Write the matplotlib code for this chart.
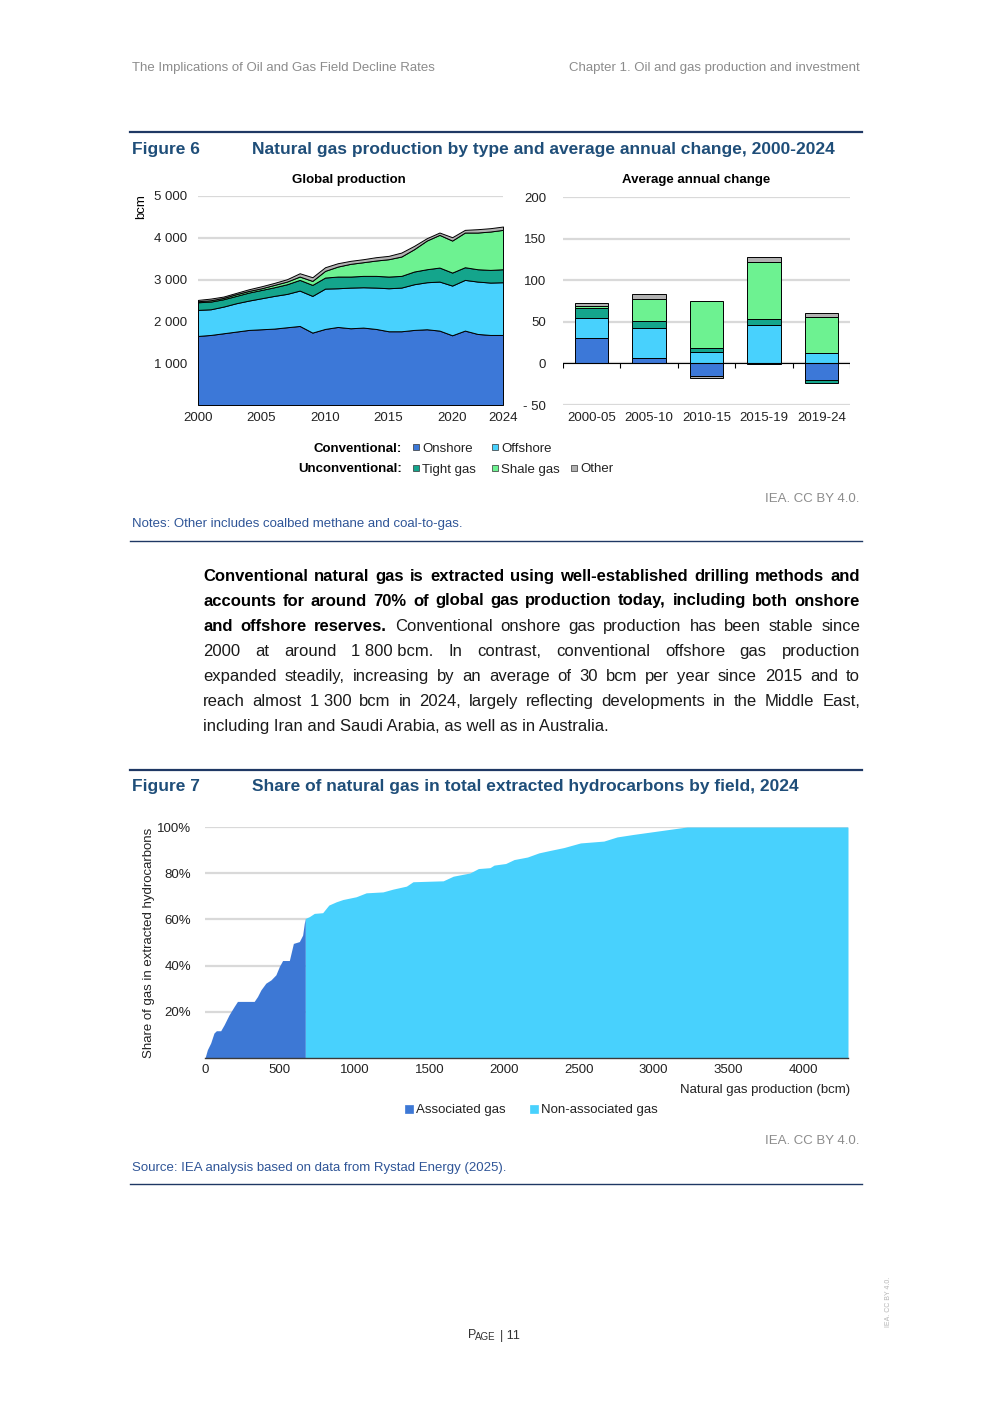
"""Page 11 of the IEA decline-rates report: figures 6 and 7 with the text between them."""

import matplotlib
matplotlib.use('Agg')
import matplotlib.pyplot as plt
from matplotlib.patches import Rectangle
from matplotlib.lines import Line2D
import matplotlib.ticker as mticker

plt.rcParams['font.family'] = ['Liberation Sans', 'DejaVu Sans']

# ---- Figure 6 data (bcm) ----
years = list(range(2000, 2025))
onshore = [1652, 1676, 1716, 1756, 1796, 1812, 1828, 1860, 1891, 1732, 1820, 1867, 1836,
           1852, 1820, 1764, 1764, 1796, 1812, 1780, 1668, 1780, 1700, 1676, 1676]
offshore = [623, 614, 638, 678, 702, 742, 782, 798, 846, 878, 965, 926, 973,
            965, 989, 1029, 1045, 1093, 1125, 1173, 1189, 1213, 1253, 1253, 1261]
tight_gas = [183, 184, 176, 176, 192, 199, 207, 231, 256, 263, 264, 280, 264,
             272, 280, 280, 280, 304, 311, 335, 311, 303, 295, 303, 311]
shale_gas = [24, 32, 32, 40, 39, 40, 56, 64, 80, 96, 160, 239, 304,
             327, 367, 415, 463, 534, 686, 782, 766, 830, 878, 918, 942]
other_gas = [32, 40, 32, 32, 40, 48, 48, 56, 79, 88, 87, 80, 72,
             72, 80, 80, 95, 80, 56, 56, 80, 64, 80, 80, 80]

periods = ['2000-05', '2005-10', '2010-15', '2015-19', '2019-24']
chg_onshore = [31, 6, -15, -1, -20]
chg_offshore = [23, 37, 14, 46, 13]
chg_tight = [12, 8, 4, 7, -3]
chg_shale = [3, 27, 57, 69, 43]
chg_other = [3, 5, -2, 6, 4]

series_names = ['Onshore', 'Offshore', 'Tight gas', 'Shale gas', 'Other']
series_colors = ['#3c78d8', '#48d1fd', '#14a58c', '#6df291', '#b2b2b2']

# ---- Figure 7 data: cumulative production (bcm) vs gas share (%) ----
assoc_x = [0, 16, 38, 60, 76, 105, 128, 161, 195, 217, 329, 351, 374, 407, 441, 474,
           497, 519, 564, 591, 631, 653, 664, 671]
assoc_y = [0, 3.6, 6.5, 10.8, 11.8, 11.8, 14.4, 18.7, 22.3, 24.5, 24.5, 26.6, 29.5,
           32.4, 33.8, 36, 39.6, 42.2, 42.2, 49.6, 50.4, 53.2, 58.3, 60.4]
nonassoc_x = [671, 698, 731, 787, 828, 877, 922, 1011, 1078, 1190, 1257, 1347, 1391,
              1593, 1660, 1772, 1828, 1906, 1933, 2011, 2067, 2156, 2233, 2311, 2400,
              2511, 2667, 2756, 2867, 2978, 3089, 3223, 4300]
nonassoc_y = [60.4, 61.2, 62.6, 62.9, 66.2, 67.6, 68.6, 69.8, 71.5, 71.9, 73.1, 74.4,
              76.3, 76.7, 78.7, 80.1, 82, 82.4, 83.5, 84.2, 85.9, 87, 88.8, 89.9, 91.1,
              93.1, 93.9, 95.7, 96.8, 97.8, 98.8, 100, 100]

W, H = 992, 1403
GREY = '#8c8c8c'
NAVY = '#1f3864'
TITLE_BLUE = '#1f4e79'
NOTE_BLUE = '#2f5597'
GRID = '#d9d9d9'
TICK = '#222222'
FS = 9.5


def fx(x):
    return x / W


def fy(y):
    return 1 - y / H


def box(x0, y0, x1, y1):
    return [fx(x0), fy(y1), (x1 - x0) / W, (y1 - y0) / H]


def ftext(x, y, s, **kw):
    # centred text sits a touch high because of descenders, nudge it down
    if kw.setdefault('va', 'center') == 'center' and not kw.get('rotation'):
        y += 1.5
    return fig.text(fx(x), fy(y), s, **kw)


def rule(y, lw=1.0):
    fig.add_artist(Line2D([fx(130), fx(862)], [fy(y), fy(y)], color=NAVY, lw=lw))


def swatch(x, y, size, color, edge=None):
    fig.add_artist(Rectangle((fx(x), fy(y + size / 2)), size / W, size / H,
                             facecolor=color, edgecolor=edge or color, lw=0.5,
                             transform=fig.transFigure))


fig = plt.figure(figsize=(W / 100, H / 100), dpi=100)

# header
ftext(132, 66, 'The Implications of Oil and Gas Field Decline Rates', fontsize=9.5, color=GREY)
ftext(860, 66, 'Chapter 1. Oil and gas production and investment', fontsize=9.5,
      color=GREY, ha='right')

# ---- Figure 6 ----
rule(132, lw=1.6)
ftext(132, 148, 'Figure 6', fontsize=12.5, fontweight='bold', color=TITLE_BLUE)
ftext(252, 148, 'Natural gas production by type and average annual change, 2000-2024',
      fontsize=12.5, fontweight='bold', color=TITLE_BLUE)

ax1 = fig.add_axes(box(198, 196, 503, 405))
ax1.stackplot(years, onshore, offshore, tight_gas, shale_gas, other_gas,
              colors=series_colors, edgecolor='black', linewidth=0.7)
ax1.set_xlim(2000, 2024)
ax1.set_ylim(0, 5000)
ax1.set_yticks([1000, 2000, 3000, 4000, 5000])
ax1.yaxis.set_major_formatter(mticker.FuncFormatter(lambda v, p: f'{int(v):,}'.replace(',', ' ')))
ax1.set_xticks([2000, 2005, 2010, 2015, 2020, 2024])
ax1.grid(axis='y', color=GRID, lw=1.6)
ax1.set_axisbelow(True)
for s in ax1.spines.values():
    s.set_visible(False)
ax1.tick_params(length=0, labelsize=FS, colors=TICK)
ax1.tick_params(axis='y', pad=8)
ax1.tick_params(axis='x', pad=5)
ftext(349, 179, 'Global production', fontsize=FS, fontweight='bold', ha='center')
ftext(141, 207, 'bcm', fontsize=FS, rotation=90, ha='center')

ax2 = fig.add_axes(box(563, 197, 850, 405))
pos = list(range(len(periods)))
pos_base = [0] * len(periods)
neg_base = [0] * len(periods)
for vals, col in zip([chg_onshore, chg_offshore, chg_tight, chg_shale, chg_other], series_colors):
    bottoms = [pb if v >= 0 else nb for v, pb, nb in zip(vals, pos_base, neg_base)]
    ax2.bar(pos, vals, bottom=bottoms, width=0.58, color=col, edgecolor='black', lw=0.7, zorder=3)
    pos_base = [pb + max(v, 0) for v, pb in zip(vals, pos_base)]
    neg_base = [nb + min(v, 0) for v, nb in zip(vals, neg_base)]
ax2.set_xlim(-0.5, len(periods) - 0.5)
ax2.set_ylim(-50, 200)
ax2.set_yticks([-50, 0, 50, 100, 150, 200])
ax2.set_yticklabels(['- 50', '0', '50', '100', '150', '200'])
ax2.set_xticks(pos)
ax2.set_xticklabels(periods)
ax2.grid(axis='y', color=GRID, lw=1.6)
ax2.set_axisbelow(True)
ax2.axhline(0, color='black', lw=0.8, zorder=4)
ax2.vlines([p - 0.5 for p in pos] + [pos[-1] + 0.5], -5, 0, color='black', lw=0.8, zorder=4)
for s in ax2.spines.values():
    s.set_visible(False)
ax2.tick_params(length=0, labelsize=FS, colors=TICK)
ax2.tick_params(axis='y', pad=12)
ax2.tick_params(axis='x', pad=5)
ftext(696, 179, 'Average annual change', fontsize=FS, fontweight='bold', ha='center')

# legend of figure 6
ftext(402, 447, 'Conventional:', fontsize=FS, fontweight='bold', ha='right')
ftext(402, 468, 'Unconventional:', fontsize=FS, fontweight='bold', ha='right')
legend_slots = [(413, 447), (492, 447), (413, 468), (492, 468), (571, 468)]
for (lx, ly), name, col in zip(legend_slots, series_names, series_colors):
    swatch(lx, ly, 6, col, edge='#333333')
    ftext(lx + 9, ly, name, fontsize=FS, color=TICK)

ftext(859, 497, 'IEA. CC BY 4.0.', fontsize=FS, color=GREY, ha='right')
ftext(132, 523, 'Notes: Other includes coalbed methane and coal-to-gas.', fontsize=9.5,
      color=NOTE_BLUE)
rule(541)

# ---- justified paragraph ----
paragraph = [
    [('Conventional natural gas is extracted using well-established drilling methods and', 'bold')],
    [('accounts for around 70% of global gas production today, including both onshore', 'bold')],
    [('and offshore reserves.', 'bold'),
     ('Conventional onshore gas production has been stable since', 'normal')],
    [('2000 at around 1\u00a0800\u00a0bcm. In contrast, conventional offshore gas production', 'normal')],
    [('expanded steadily, increasing by an average of 30 bcm per year since 2015 and to', 'normal')],
    [('reach almost 1\u00a0300 bcm in 2024, largely reflecting developments in the Middle East,', 'normal')],
]
last_line = 'including Iran and Saudi Arabia, as well as in Australia.'
baselines = [580.5, 605.5, 631, 656, 681, 705.5, 730.5]
renderer = fig.canvas.get_renderer()
PX0, PX1 = 203, 860
PFS = 12
for segments, base in zip(paragraph, baselines):
    words = []
    for seg, wt in segments:
        words += [(w, wt) for w in seg.split(' ')]
    arts, widths = [], []
    for w, wt in words:
        t = ftext(0, base, w, fontsize=PFS, fontweight=wt, va='baseline',
                  color='black' if wt == 'bold' else '#1a1a1a')
        arts.append(t)
        widths.append(t.get_window_extent(renderer).width)
    gap = (PX1 - PX0 - sum(widths)) / (len(words) - 1)
    x = PX0
    for t, wd in zip(arts, widths):
        t.set_x(fx(x))
        x += wd + gap
ftext(PX0, baselines[-1], last_line, fontsize=PFS, va='baseline', color='#1a1a1a')

# ---- Figure 7 ----
rule(770, lw=1.6)
ftext(132, 785, 'Figure 7', fontsize=12.5, fontweight='bold', color=TITLE_BLUE)
ftext(252, 785, 'Share of natural gas in total extracted hydrocarbons by field, 2024',
      fontsize=12.5, fontweight='bold', color=TITLE_BLUE)

ax3 = fig.add_axes(box(205, 827, 848, 1058))
ax3.fill_between(assoc_x, [v / 100 for v in assoc_y], color='#3d78d5', lw=0, zorder=3)
ax3.fill_between(nonassoc_x, [v / 100 for v in nonassoc_y], color='#48d1fd', lw=0, zorder=3)
ax3.set_xlim(0, 4300)
ax3.set_ylim(0, 1)
ax3.set_yticks([0.2, 0.4, 0.6, 0.8, 1.0])
ax3.yaxis.set_major_formatter(mticker.PercentFormatter(1.0, decimals=0))
ax3.set_xticks(range(0, 4001, 500))
ax3.grid(axis='y', color=GRID, lw=1.6)
ax3.set_axisbelow(True)
for s in ['top', 'right', 'left']:
    ax3.spines[s].set_visible(False)
ax3.spines['bottom'].set_color('#3a3a3a')
ax3.spines['bottom'].set_linewidth(1.0)
ax3.spines['bottom'].set_zorder(4)
ax3.tick_params(length=0, labelsize=FS, colors=TICK)
ax3.tick_params(axis='y', pad=10)
ax3.tick_params(axis='x', pad=4)
ftext(850, 1088, 'Natural gas production (bcm)', fontsize=FS, ha='right', color=TICK)
ftext(149, 943, 'Share of gas in extracted hydrocarbons', fontsize=FS, rotation=90,
      ha='center', color=TICK)

swatch(405, 1109, 8, '#3d78d5')
ftext(416, 1109, 'Associated gas', fontsize=FS, color=TICK)
swatch(530, 1109, 8, '#48d1fd')
ftext(541, 1109, 'Non-associated gas', fontsize=FS, color=TICK)

ftext(859, 1140, 'IEA. CC BY 4.0.', fontsize=FS, color=GREY, ha='right')
ftext(132, 1166, 'Source: IEA analysis based on data from Rystad Energy (2025).', fontsize=9.5,
      color=NOTE_BLUE)
rule(1184)

# footer
ftext(468, 1334, 'P', fontsize=9, color='#333333')
ftext(475, 1335, 'AGE', fontsize=7, color='#333333')
ftext(500, 1334, '| 11', fontsize=9, color='#333333')
ftext(888, 1302, 'IEA. CC BY 4.0.', fontsize=5, color='#b5b5b5', rotation=90, ha='center')

fig.savefig('out.png', dpi=100)
print('Saved out.png')
